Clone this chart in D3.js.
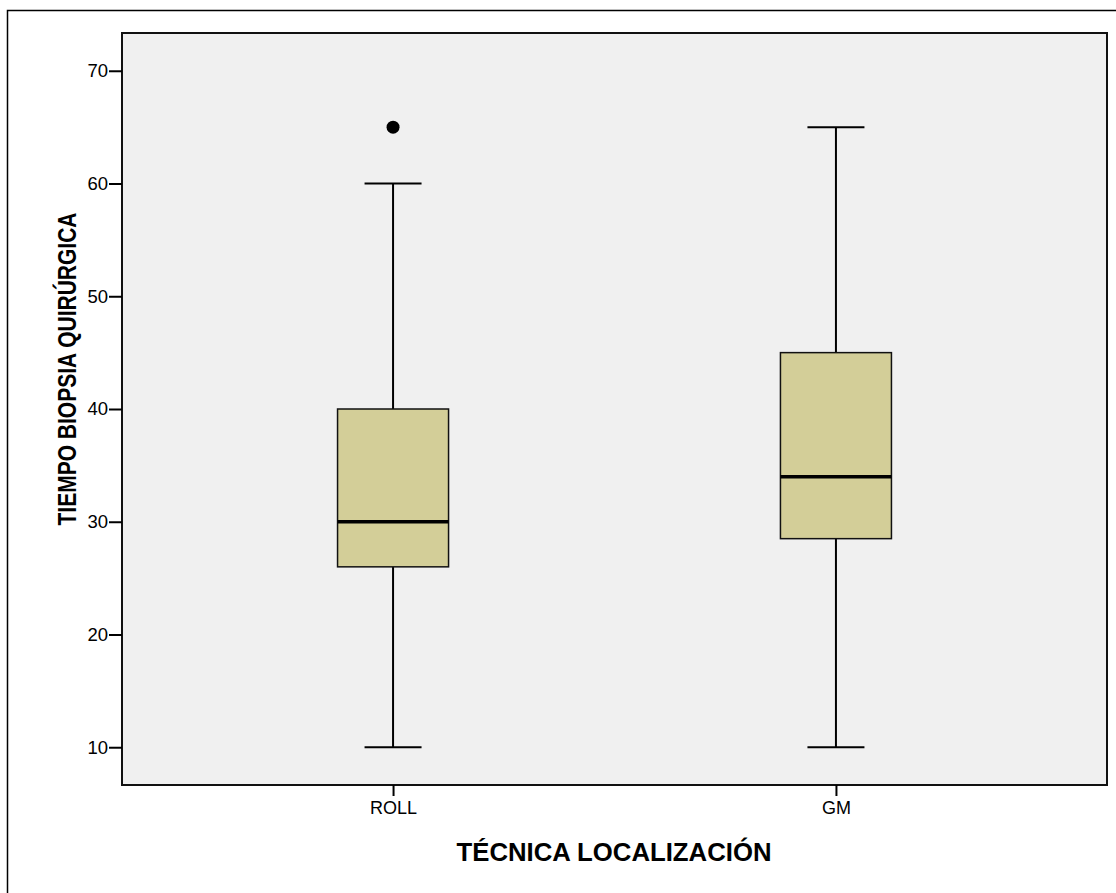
<!DOCTYPE html>
<html>
<head>
<meta charset="utf-8">
<script src="https://cdn.jsdelivr.net/npm/d3@7/dist/d3.min.js"></script>
<style>
  html, body { margin: 0; padding: 0; background: #ffffff; }
  svg { display: block; font-family: "Liberation Sans", Arial, sans-serif; }
</style>
</head>
<body>
<svg id="chart" width="1116" height="893"></svg>
<script>
// Box-plot summaries per localisation technique
const categories = ["ROLL", "GM"];
const whiskerLow  = [10, 10];
const quartile1   = [26, 28.5];
const medians     = [30, 34];
const quartile3   = [40, 45];
const whiskerHigh = [60, 65];
const outliers    = [[65], []];
const yTicks      = [10, 20, 30, 40, 50, 60, 70];

const xTitle = "TÉCNICA LOCALIZACIÓN";
const yTitle = "TIEMPO BIOPSIA QUIRÚRGICA";

const svg = d3.select("#chart");
const plot = { left: 122, top: 33, right: 1107, bottom: 785 };

// Outer frame
svg.append("rect")
  .attr("x", 7.5).attr("y", 10.5)
  .attr("width", 1120).attr("height", 900)
  .attr("fill", "#ffffff").attr("stroke", "#000").attr("stroke-width", 1.5);

const y = d3.scaleLinear().domain([6.65, 73.35]).range([plot.bottom, plot.top]);
const x = d3.scalePoint().domain(categories).range([plot.left, plot.right]).padding(0.612);

// Plot background
svg.append("rect")
  .attr("x", plot.left).attr("y", plot.top)
  .attr("width", plot.right - plot.left).attr("height", plot.bottom - plot.top)
  .attr("fill", "#f0f0f0");

const boxW = 111, capW = 57;
const data = categories.map((c, i) => ({
  c, lo: whiskerLow[i], q1: quartile1[i], med: medians[i], q3: quartile3[i], hi: whiskerHigh[i], out: outliers[i]
}));

const g = svg.append("g");
data.forEach(d => {
  const cx = x(d.c);
  // whiskers
  g.append("line").attr("x1", cx).attr("x2", cx).attr("y1", y(d.hi)).attr("y2", y(d.q3))
    .attr("stroke", "#000").attr("stroke-width", 2);
  g.append("line").attr("x1", cx).attr("x2", cx).attr("y1", y(d.q1)).attr("y2", y(d.lo))
    .attr("stroke", "#000").attr("stroke-width", 2);
  [d.hi, d.lo].forEach(v => {
    g.append("line").attr("x1", cx - capW / 2).attr("x2", cx + capW / 2)
      .attr("y1", y(v)).attr("y2", y(v)).attr("stroke", "#000").attr("stroke-width", 2);
  });
  // box
  g.append("rect")
    .attr("x", cx - boxW / 2).attr("y", y(d.q3))
    .attr("width", boxW).attr("height", y(d.q1) - y(d.q3))
    .attr("fill", "#d3ce98").attr("stroke", "#111").attr("stroke-width", 1.5);
  // median
  g.append("line").attr("x1", cx - boxW / 2).attr("x2", cx + boxW / 2)
    .attr("y1", y(d.med)).attr("y2", y(d.med)).attr("stroke", "#000").attr("stroke-width", 3.5);
  // outliers
  d.out.forEach(v => {
    g.append("circle").attr("cx", cx).attr("cy", y(v)).attr("r", 6.5).attr("fill", "#000");
  });
});

// Plot border
svg.append("rect")
  .attr("x", plot.left).attr("y", plot.top)
  .attr("width", plot.right - plot.left).attr("height", plot.bottom - plot.top)
  .attr("fill", "none").attr("stroke", "#111").attr("stroke-width", 2);

// Axes
const yAxis = svg.append("g").attr("transform", `translate(${plot.left},0)`)
  .call(d3.axisLeft(y).tickValues(yTicks).tickSize(13).tickPadding(1));
yAxis.select(".domain").remove();
yAxis.selectAll(".tick line").attr("stroke", "#000").attr("stroke-width", 2);
yAxis.selectAll(".tick text").attr("font-size", 18.5).attr("fill", "#000")
  .attr("font-family", "'Liberation Sans', Arial, sans-serif");

const xAxis = svg.append("g").attr("transform", `translate(0,${plot.bottom})`)
  .call(d3.axisBottom(x).tickSize(11).tickPadding(5));
xAxis.select(".domain").remove();
xAxis.selectAll(".tick line").attr("stroke", "#000").attr("stroke-width", 2);
xAxis.selectAll(".tick text").attr("font-size", 18).attr("fill", "#000")
  .attr("font-family", "'Liberation Sans', Arial, sans-serif");

// Axis titles
svg.append("text")
  .attr("x", 614).attr("y", 861)
  .attr("text-anchor", "middle")
  .attr("font-size", 25.5).attr("font-weight", "bold")
  .attr("textLength", 315).attr("lengthAdjust", "spacingAndGlyphs")
  .text(xTitle);

svg.append("text")
  .attr("transform", "translate(76,369) rotate(-90)")
  .attr("text-anchor", "middle")
  .attr("font-size", 25.5).attr("font-weight", "bold")
  .attr("textLength", 313).attr("lengthAdjust", "spacingAndGlyphs")
  .text(yTitle);
</script>
</body>
</html>
